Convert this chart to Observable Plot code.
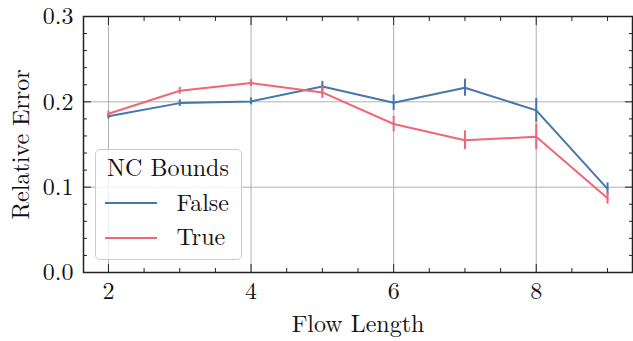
<!DOCTYPE html>
<html><head><meta charset="utf-8">
<script src="https://cdn.jsdelivr.net/npm/d3@7"></script>
<script src="https://cdn.jsdelivr.net/npm/@observablehq/plot@0.6"></script>
<style>
body{margin:0;background:#fff;}
#wrap{position:relative;width:633px;height:341px;color:#111;}
#legend{position:absolute;left:95px;top:149px;width:147px;height:111px;box-sizing:border-box;border:1.5px solid #cccccc;border-radius:5px;background:rgba(255,255,255,0.8);}
#legend .t{position:absolute;font-size:24px;line-height:24px;white-space:nowrap;}
#legend .sw{position:absolute;height:2px;width:52px;}
</style></head><body><div id="wrap" style="font-family:'Latin Modern Roman','Liberation Serif',serif"></div>
<script>
// data
const flowLength = [2, 3, 4, 5, 6, 7, 8, 9];
const errorFalse = [0.183, 0.1985, 0.2005, 0.218, 0.199, 0.2165, 0.190, 0.098];
const spreadFalse = [0.003, 0.004, 0.004, 0.006, 0.009, 0.010, 0.014, 0.007];
const errorTrue = [0.186, 0.213, 0.222, 0.211, 0.174, 0.155, 0.159, 0.087];
const spreadTrue = [0.003, 0.004, 0.004, 0.007, 0.009, 0.011, 0.015, 0.007];
const seriesNames = ["False", "True"];
const seriesColors = ["#4477AA", "#EE6677"];
const legendTitle = "NC Bounds";
const xMajor = [2, 4, 6, 8];
const xMinor = [2.5, 3, 3.5, 4.5, 5, 5.5, 6.5, 7, 7.5, 8.5, 9];
const yMajor = [0, 0.1, 0.2, 0.3];
const yMinor = [0.02, 0.04, 0.06, 0.08, 0.12, 0.14, 0.16, 0.18, 0.22, 0.24, 0.26, 0.28];

const seriesValues = [errorFalse, errorTrue];
const seriesSpread = [spreadFalse, spreadTrue];
const rows = [];
seriesNames.forEach((name, si) => {
  flowLength.forEach((x, i) => rows.push({x, y: seriesValues[si][i], e: seriesSpread[si][i], s: name}));
});

const serif = "'Latin Modern Roman', 'Liberation Serif', serif";
const fmt = d3.format(".1f");
const plot = Plot.plot({
  width: 633, height: 341,
  marginLeft: 83, marginRight: 1, marginTop: 16, marginBottom: 69,
  style: {fontFamily: serif, fontSize: "24px", color: "#111", background: "white", overflow: "visible"},
  x: {domain: [1.65, 9.35], label: null},
  y: {domain: [0, 0.3], label: null},
  color: {domain: seriesNames, range: seriesColors},
  marks: [
    Plot.gridX(xMajor, {stroke: "#b0b0b0", strokeOpacity: 1, strokeWidth: 1}),
    Plot.gridY(yMajor, {stroke: "#b0b0b0", strokeOpacity: 1, strokeWidth: 1}),
    Plot.line(rows, {x: "x", y: "y", z: "s", stroke: "s", strokeWidth: 2}),
    Plot.ruleX(rows, {x: "x", y1: d => d.y - d.e, y2: d => d.y + d.e, stroke: "s", strokeWidth: 2}),
    Plot.axisX(xMajor, {anchor: "bottom", tickSize: 0, tickPadding: 9, tickFormat: d => String(d), label: "Flow Length", labelAnchor: "center", labelOffset: 59, labelArrow: "none"}),
    Plot.axisX(xMajor, {anchor: "bottom", tickSize: -8, tickFormat: () => "", label: null, stroke: "#222"}),
    Plot.axisX(xMinor, {anchor: "bottom", tickSize: -4, tickFormat: () => "", label: null, stroke: "#222"}),
    Plot.axisX(xMajor, {anchor: "top", tickSize: -8, tickFormat: () => "", label: null, stroke: "#222"}),
    Plot.axisX(xMinor, {anchor: "top", tickSize: -4, tickFormat: () => "", label: null, stroke: "#222"}),
    Plot.axisY(yMajor, {anchor: "left", tickSize: 0, tickPadding: 10, tickFormat: fmt, label: "Relative Error", labelAnchor: "center", labelOffset: 72, labelArrow: "none"}),
    Plot.axisY(yMajor, {anchor: "left", tickSize: -8, tickFormat: () => "", label: null, stroke: "#222"}),
    Plot.axisY(yMinor, {anchor: "left", tickSize: -4, tickFormat: () => "", label: null, stroke: "#222"}),
    Plot.axisY(yMajor, {anchor: "right", tickSize: -8, tickFormat: () => "", label: null, stroke: "#222"}),
    Plot.axisY(yMinor, {anchor: "right", tickSize: -4, tickFormat: () => "", label: null, stroke: "#222"}),
    Plot.frame({stroke: "#222", strokeWidth: 1.5})
  ]
});
plot.setAttribute("font-family", serif);
plot.style.fontFamily = serif;
plot.querySelectorAll("text").forEach(t => { t.setAttribute("font-family", serif); t.style.fontFamily = serif; });
const wrap = document.getElementById("wrap");
wrap.appendChild(plot);

// legend
const lg = document.createElement("div");
lg.id = "legend";
lg.style.fontFamily = serif;
const title = document.createElement("div");
title.className = "t";
title.textContent = legendTitle;
title.style.left = "0"; title.style.width = "144px"; title.style.textAlign = "center"; title.style.top = "4px";
lg.appendChild(title);
seriesNames.forEach((name, i) => {
  const sw = document.createElement("div");
  sw.className = "sw";
  sw.style.background = seriesColors[i];
  sw.style.left = "8.5px";
  sw.style.top = (51.5 + i * 35) + "px";
  lg.appendChild(sw);
  const t = document.createElement("div");
  t.className = "t";
  t.textContent = name;
  t.style.left = "80.5px";
  t.style.top = (38.5 + i * 34.5) + "px";
  lg.appendChild(t);
});
lg.querySelectorAll(".t").forEach(t => t.style.fontFamily = serif);
wrap.appendChild(lg);
</script>
</body></html>
